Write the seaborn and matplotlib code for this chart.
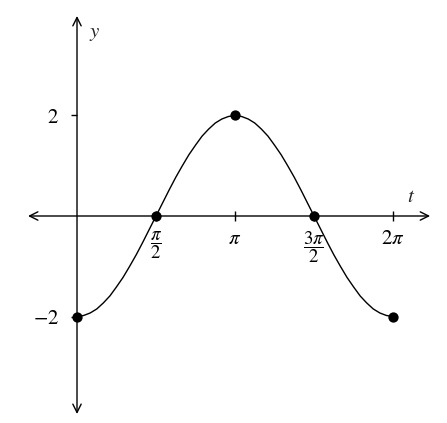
import numpy as np
import pandas as pd
import matplotlib
matplotlib.use('Agg')
import matplotlib.pyplot as plt
import seaborn as sns

t_vals = np.arange(49) * np.pi / 24
y_vals = [-2.00, -1.98, -1.93, -1.85, -1.73, -1.59, -1.41, -1.22, -1.00, -0.77, -0.52, -0.26,
          0.00, 0.26, 0.52, 0.77, 1.00, 1.22, 1.41, 1.59, 1.73, 1.85, 1.93, 1.98,
          2.00, 1.98, 1.93, 1.85, 1.73, 1.59, 1.41, 1.22, 1.00, 0.77, 0.52, 0.26,
          0.00, -0.26, -0.52, -0.77, -1.00, -1.22, -1.41, -1.59, -1.73, -1.85, -1.93, -1.98,
          -2.00]

# highlighted points
pt_t = [0, np.pi / 2, np.pi, 3 * np.pi / 2, 2 * np.pi]
pt_y = [-2, 0, 2, 0, -2]

x_ticks = [np.pi / 2, np.pi, 3 * np.pi / 2, 2 * np.pi]
x_tick_labels = [r'$\dfrac{\pi}{2}$', r'$\pi$', r'$\dfrac{3\pi}{2}$', r'$2\pi$']
y_ticks = [-2, 2]
y_tick_labels = [r'$-2$', r'$2$']

sns.set_style('white')
plt.rcParams['mathtext.fontset'] = 'stix'
plt.rcParams['font.family'] = ['STIXGeneral', 'DejaVu Serif']

curve_df = pd.DataFrame({'t': t_vals, 'y': y_vals})
pts_df = pd.DataFrame({'t': pt_t, 'y': pt_y})

fig = plt.figure(figsize=(4.47, 4.23), dpi=100)
ax = fig.add_axes([0, 0, 1, 1])
ax.set_xlim(-1.531, 7.356)
ax.set_ylim(-4.119, 4.298)

# axes with arrows on both ends
arrow = dict(arrowstyle='<->,head_length=0.6,head_width=0.3', lw=1.0, color='black',
             shrinkA=0, shrinkB=0)
ax.annotate('', xy=(7.02, 0), xytext=(-0.974, 0), arrowprops=arrow, zorder=1)
ax.annotate('', xy=(0, 3.98), xytext=(0, -3.94), arrowprops=arrow, zorder=1)

for s in ax.spines.values():
    s.set_visible(False)
ax.spines['left'].set_position(('data', 0))
ax.spines['bottom'].set_position(('data', 0))
ax.xaxis.set_ticks_position('bottom')
ax.yaxis.set_ticks_position('left')

ax.set_xticks(x_ticks, x_tick_labels, fontsize=15)
ax.set_yticks(y_ticks, y_tick_labels, fontsize=15)
ax.tick_params(axis='x', direction='inout', length=7, width=1, pad=6, colors='black')
ax.tick_params(axis='y', direction='out', length=4, width=1, pad=9, colors='black')
# stacked fractions a bit smaller, as in the reference
for lab in ax.get_xticklabels():
    if 'frac' in lab.get_text():
        lab.set_fontsize(13.5)

sns.lineplot(data=curve_df, x='t', y='y', color='black', lw=1.0, ax=ax, zorder=3)
sns.scatterplot(data=pts_df, x='t', y='y', color='black', s=55, edgecolor='black',
                linewidth=0, ax=ax, zorder=4)
ax.set_xlabel('')
ax.set_ylabel('')

ax.text(0.36, 3.64, r'$y$', fontsize=15, ha='center', va='center')
ax.text(6.64, 0.38, r'$t$', fontsize=15, ha='center', va='center')

fig.savefig('out.png', dpi=100)
